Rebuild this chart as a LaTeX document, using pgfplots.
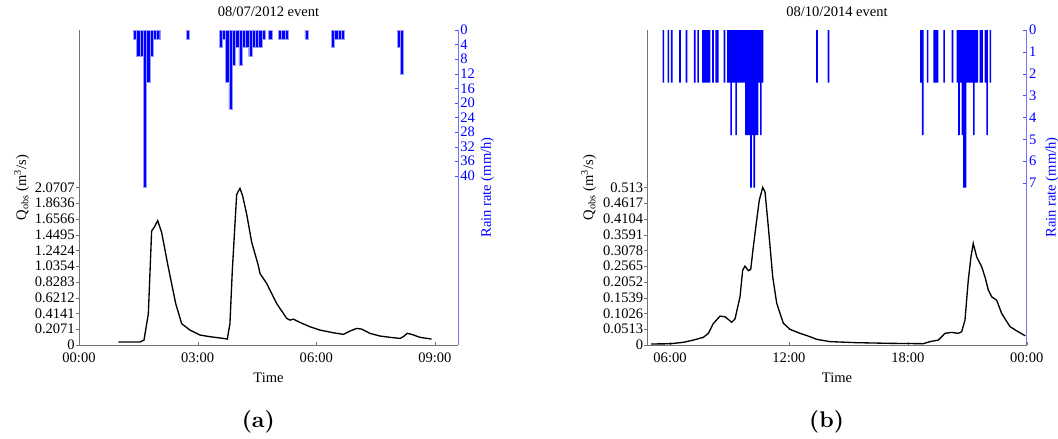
\documentclass[border=0pt]{standalone}
\usepackage{pgfplots}
\pgfplotsset{compat=1.18}
\usepackage{fontspec}
\setmainfont{Liberation Serif}
\newfontfamily\capfont{lmroman10-bold}[Extension=.otf]

% discharge axes (left, bottom half of the frame)
\pgfplotsset{
  qaxis/.style={
    scale only axis, anchor=south west,
    height=236.25pt,
    ymin=0,
    axis x line*=bottom, axis y line*=left,
    axis line style={black!55, line width=0.5pt, -},
    tick align=inside,
    major tick length=2.5pt,
    xtick style={black!55},
    ytick style={black!55, xshift=-2.5pt},
    yticklabel style={inner sep=1pt, xshift=-2pt},
    xticklabel style={yshift=-2pt},
    /pgf/number format/assume math mode=true,
    xlabel={Time},
    xlabel style={at={(axis description cs:0.5,0)}, anchor=center, yshift=-24.75pt},
    ylabel style={at={(axis description cs:0,0.5)}, anchor=center, yshift=43pt},
    title style={at={(axis description cs:0.5,1)}, anchor=center, yshift=7.5pt},
  },
  raxis/.style={
    scale only axis, anchor=south west,
    height=236.25pt,
    ymin=0, y dir=reverse,
    axis x line=none, axis y line*=right,
    axis line style={blue!55, line width=0.5pt, -},
    tick align=inside,
    major tick length=2.5pt,
    ytick style={blue!70},
    yticklabel style={blue, inner sep=1pt, xshift=0.5pt},
    /pgf/number format/assume math mode=true,
    ylabel={Rain rate (mm/h)},
    ylabel style={blue, at={(axis description cs:1,0.5)}, anchor=center},
  },
}

\begin{document}
\fontsize{10.9}{13}\selectfont
\begin{tikzpicture}
\useasboundingbox (0pt,0pt) rectangle (793.5pt,-329.25pt);

% ---------------- (a) 08/07/2012 ----------------
\begin{axis}[qaxis, at={(59.25pt,-258.75pt)}, width=284.25pt,
  xmin=0, xmax=575, ymax=4.1414,
  xtick={0,180,360,540}, xticklabels={00:00,03:00,06:00,09:00},
  ytick={0,0.20707,0.41414,0.62121,0.82828,1.03535,1.24242,1.44949,1.65656,1.86363,2.0707},
  yticklabels={0,0.2071,0.4141,0.6212,0.8283,1.0354,1.2424,1.4495,1.6566,1.8636,2.0707},
  ylabel={Q\textsubscript{obs} (m\textsuperscript{3}/s)},
  title={08/07/2012 event}]
\addplot[black, line width=1pt] coordinates {
  (59.7,0.039) (92.5,0.039) (98.6,0.065) (105.2,0.41) (110.2,1.50) (114.3,1.55)
  (119.4,1.635) (125.4,1.48) (135.5,1.02) (146.7,0.545) (155.8,0.28) (168.4,0.196)
  (183.6,0.131) (198.7,0.109) (218.9,0.087) (225,0.078) (229,0.28) (232.6,0.98)
  (239.2,1.98) (244.2,2.06) (248.3,1.96) (254.4,1.72) (262,1.35) (272,1.046)
  (274.6,0.94) (284.7,0.81) (299.9,0.545) (315.1,0.35) (320.1,0.327) (325.1,0.34)
  (335.3,0.297) (350.4,0.24) (365.6,0.196) (385.8,0.161) (401,0.14) (411.1,0.183)
  (421.3,0.218) (428.8,0.209) (441.4,0.153) (456.6,0.118) (471.8,0.101) (487,0.087)
  (492,0.109) (498,0.153) (504.7,0.14) (517.3,0.101) (535,0.078)
};
\end{axis}
\begin{axis}[raxis, at={(59.25pt,-258.75pt)}, width=284.25pt,
  xmin=0, xmax=575, ymax=86.4,
  ytick={0,4,...,40},
  ylabel style={yshift=-22pt}]
\addplot[ybar, bar width=5, fill=blue, draw=blue!40, line width=0.3pt] coordinates {
  (85,2.4) (90,7.2) (95,7.2) (100,43.2) (105,14.4) (110,7.2) (115,2.4) (120,2.4)
  (165,2.4)
  (215,4.8) (220,2.4) (225,14.4) (230,21.6) (235,9.6) (240,4.8) (245,9.6) (250,4.8)
  (255,4.8) (260,7.2) (265,4.8) (270,4.8) (275,4.8) (280,2.4)
  (290,2.4) (305,2.4) (310,2.4) (315,2.4) (345,2.4)
  (385,4.8) (390,2.4) (395,2.4) (400,2.4)
  (485,4.8) (490,12)
};
\end{axis}

% ---------------- (b) 08/10/2014 ----------------
\begin{axis}[qaxis, at={(485.5pt,-258.75pt)}, width=284.55pt,
  xmin=291.3, xmax=1440, ymax=1.026,
  xtick={360,720,1080,1440}, xticklabels={06:00,12:00,18:00,00:00},
  ytick={0,0.0513,0.1026,0.1539,0.2052,0.2565,0.3078,0.3591,0.4104,0.4617,0.513},
  yticklabels={0,0.0513,0.1026,0.1539,0.2052,0.2565,0.3078,0.3591,0.4104,0.4617,0.513},
  ylabel={Q\textsubscript{obs} (m\textsuperscript{3}/s)},
  ylabel style={yshift=1pt},
  title={08/10/2014 event}]
\addplot[black, line width=1pt] coordinates {
  (302.5,0.0033) (360,0.004) (400.4,0.0087) (430.6,0.016) (460.9,0.025) (476,0.038)
  (491.2,0.070) (511.4,0.094) (526.5,0.092) (546.8,0.074) (556.8,0.085) (571.9,0.157)
  (580,0.244) (587,0.257) (597,0.242) (604.3,0.246) (612.2,0.32) (622.4,0.407)
  (630.3,0.472) (640.6,0.513) (647.6,0.499) (657.6,0.385) (670.9,0.222) (683,0.136)
  (703,0.071) (723.2,0.051) (753.5,0.038) (783.8,0.027) (804,0.0185) (844.3,0.011)
  (925.1,0.0076) (1025.9,0.0054) (1126.7,0.0043) (1147,0.011) (1172.2,0.016)
  (1192.4,0.038) (1212.7,0.041) (1232.7,0.038) (1242.9,0.043) (1253,0.081)
  (1263,0.211) (1271.1,0.287) (1278.1,0.331) (1288.4,0.287) (1303.5,0.255)
  (1313.5,0.222) (1323.6,0.179) (1333.8,0.157) (1348.9,0.146) (1364,0.103)
  (1389.2,0.060) (1414.3,0.043) (1435.5,0.030)
};
\end{axis}
\begin{axis}[raxis, at={(485.5pt,-258.75pt)}, width=284.55pt,
  xmin=291.3, xmax=1440, ymax=14.4,
  ytick={0,1,...,7},
  ylabel style={yshift=-19pt}]
\addplot[ybar, bar width=5, fill=blue, draw=none] coordinates {
  (340,2.4) (355,2.4) (365,2.4) (390,2.4) (410,2.4) (435,2.4) (445,2.4)
  (460,2.4) (465,2.4) (470,2.4) (475,2.4) (480,2.4) (490,2.4) (500,2.4) (505,2.4)
  (525,2.4)
  (535,2.4) (540,2.4) (545,4.8) (550,2.4) (555,2.4) (560,4.8) (565,2.4) (570,2.4)
  (575,2.4) (580,2.4) (585,2.4) (590,4.8) (595,4.8) (600,4.8) (605,7.2) (610,4.8)
  (615,7.2) (620,4.8) (625,4.8) (630,2.4) (635,4.8) (640,2.4)
  (805,2.4) (840,2.4)
  (1120,2.4) (1125,4.8) (1140,2.4) (1160,2.4) (1165,2.4) (1170,2.4) (1190,2.4)
  (1215,2.4)
  (1230,2.4) (1235,4.8) (1240,2.4) (1245,4.8) (1250,7.2) (1255,7.2) (1260,2.4)
  (1265,2.4) (1270,2.4) (1275,2.4) (1280,4.8) (1285,2.4) (1290,2.4)
  (1300,2.4) (1305,2.4) (1315,2.4) (1320,4.8) (1330,2.4)
};
\end{axis}

% subfigure captions
\node[font={\capfont\fontsize{17}{20}\selectfont}] at (193.7pt,-316.5pt) {(a)};
\node[font={\capfont\fontsize{17}{20}\selectfont}] at (619.9pt,-316.5pt) {(b)};
\end{tikzpicture}
\end{document}
